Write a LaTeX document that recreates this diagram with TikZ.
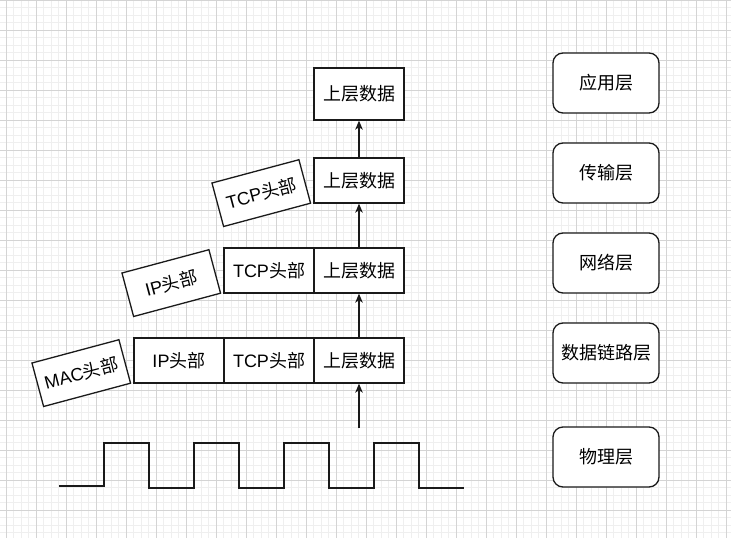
\documentclass[tikz,border=0pt]{standalone}
\usepackage{fontspec}
\setmainfont{Liberation Sans}
\newfontfamily\cjk{Noto Sans CJK SC}
\newfontfamily\latin{Liberation Sans}
\usetikzlibrary{arrows.meta}
\definecolor{gmajor}{HTML}{D4D4D4}
\definecolor{gminor}{HTML}{EFEFEF}
\definecolor{edge}{HTML}{1A1A1A}
\begin{document}
\begin{tikzpicture}[x=1pt,y=-1pt,
 every node/.style={font=\fontsize{18}{21}\selectfont\cjk, text=black},
 pkt/.style={draw=edge,line width=1.3pt,fill=white,minimum width=90pt,minimum height=45pt,inner sep=0pt},
 hdr/.style={pkt,rotate=15,anchor=south east},
 layer/.style={draw=edge,line width=1.3pt,fill=white,rounded corners=10pt,minimum width=106pt,minimum height=60pt,inner sep=0pt},
 up/.style={draw=edge,line width=1.3pt,-{Stealth[length=9pt,width=7.5pt,inset=2.5pt]}},
 wave/.style={draw=edge,line width=1.3pt}
]
\fill[white] (0,0) rectangle (731,538);
\useasboundingbox (0,0) rectangle (731,538);
% grid
\foreach \x in {6,13.5,...,730} \draw[gminor,line width=0.8pt] (\x,0) -- (\x,538);
\foreach \y in {0,7.5,...,537} \draw[gminor,line width=0.8pt] (0,\y) -- (731,\y);
\foreach \x in {6,36,...,726} \draw[gmajor,line width=0.9pt] (\x,0) -- (\x,538);
\foreach \y in {0,30,...,535} \draw[gmajor,line width=0.9pt] (0,\y) -- (731,\y);

% packets
\node[pkt,minimum height=52pt] (d1) at (359,94) {上层数据};

\node[pkt] (d2) at (359,180.5) {上层数据};
\node[hdr] (t2) at ([xshift=-2pt]d2.south west) {{\latin TCP}头部};

\node[pkt] (d3) at (359,270.5) {上层数据};
\node[pkt] (t3) at (269,270.5) {{\latin TCP}头部};
\node[hdr] (i3) at ([xshift=-2pt]t3.south west) {{\latin IP}头部};

\node[pkt] (d4) at (359,360.5) {上层数据};
\node[pkt] (t4) at (269,360.5) {{\latin TCP}头部};
\node[pkt] (i4) at (179,360.5) {{\latin IP}头部};
\node[hdr] (m4) at ([xshift=-2pt]i4.south west) {{\latin MAC}头部};

\coordinate (sig) at (359,428);

\draw[up] (sig) -- (d4.south);
\draw[up] (d4.north) -- (d3.south);
\draw[up] (d3.north) -- (d2.south);
\draw[up] (d2.north) -- (d1.south);

% square wave
\draw[wave] (59,486) -- (104,486) -- (104,443) -- (149,443) -- (149,488) -- (194,488)
  -- (194,443) -- (239,443) -- (239,488) -- (284,488) -- (284,443) -- (329,443)
  -- (329,488) -- (374,488) -- (374,443) -- (419,443) -- (419,488) -- (464,488);

% layers
\node[layer] (app) at (606,83) {应用层};
\node[layer] (trans) at (606,173) {传输层};
\node[layer] (net) at (606,263) {网络层};
\node[layer] (link) at (606,353) {数据链路层};
\node[layer] (phys) at (606,457) {物理层};
\end{tikzpicture}
\end{document}
